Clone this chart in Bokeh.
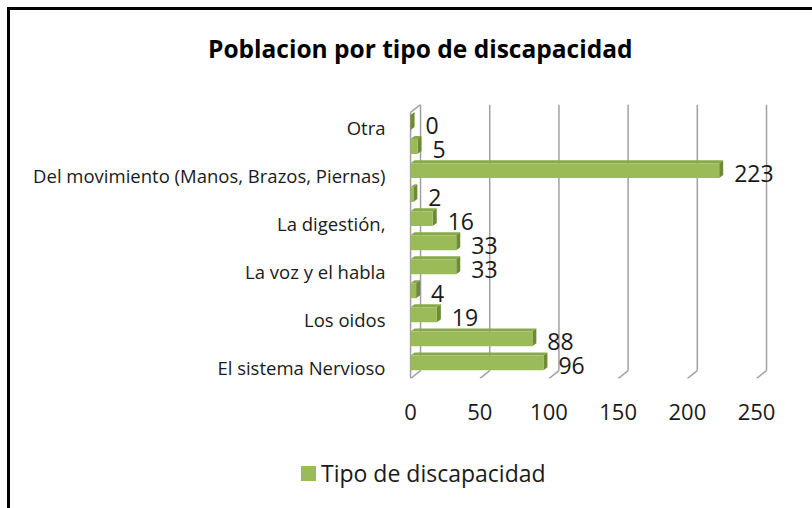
from bokeh.plotting import figure
from bokeh.models import Range1d, FixedTicker, ColumnDataSource, Div
from bokeh.layouts import column
from bokeh.core.properties import value
from bokeh.embed import file_html
from bokeh.resources import INLINE

# ---- data (bottom to top) ----
categories = [
    "El sistema Nervioso",
    "Los ojos",
    "Los oidos",
    "Los demás órganos de los sentidos",
    "La voz y el habla",
    "El sistema cardiorrespiratorio",
    "La digestión,",
    "El sistema genital",
    "Del movimiento (Manos, Brazos, Piernas)",
    "La piel",
    "Otra",
]
values = [96, 88, 19, 4, 33, 33, 16, 2, 223, 5, 0]
shown_label_idx = [0, 2, 4, 6, 8, 10]
x_ticks = [0, 50, 100, 150, 200, 250]
series_name = "Tipo de discapacidad"
title_text = "Poblacion por tipo de discapacidad"

FONT = "Open Sans"
GREEN = "#9BBB59"
GREEN_TOP = "#88A84A"
GREEN_SIDE = "#6E8B34"
GRID = "#A0A0A0"
TXT = "#1a1a1a"

title_html = (
    f'<div style="position:relative;width:802px;height:50px">'
    f'<div style="position:absolute;left:193px;top:17px;line-height:34px;white-space:nowrap;'
    f'font-family:\'{FONT}\';font-size:24.5px;font-weight:bold;color:#000">{title_text}</div></div>'
)
title_div = Div(text=title_html, width=802, height=50)

p = figure(
    width=802, height=380, output_backend="svg", toolbar_location=None,
    x_range=Range1d(-1.5, 270.2), y_range=Range1d(-0.65, 10.75),
    min_border_left=398, min_border_right=28, min_border_top=34, min_border_bottom=72,
)
p.outline_line_color = None
p.xgrid.visible = False
p.ygrid.visible = False
p.background_fill_color = "white"
p.border_fill_color = "white"

# 3D geometry (data units)
dxw, dyw = 7.2, 0.33      # wall depth
ddx, ddy = 2.9, 0.125     # bar depth
y_floor_front = -0.65
y_floor_back = y_floor_front + dyw
y_top_back = 10.75
y_top_front = y_top_back - dyw
bh = 0.62

# back wall gridlines
p.segment(x0=[t + dxw for t in x_ticks], y0=[y_floor_back] * len(x_ticks),
          x1=[t + dxw for t in x_ticks], y1=[y_top_back] * len(x_ticks),
          line_color=GRID, line_width=1.5)
# floor diagonals
p.segment(x0=[t + dxw for t in x_ticks], y0=[y_floor_back] * len(x_ticks),
          x1=x_ticks, y1=[y_floor_front] * len(x_ticks),
          line_color=GRID, line_width=1.5)
# left wall
p.segment(x0=[x_ticks[0]], y0=[y_floor_front], x1=[x_ticks[0]], y1=[y_top_front],
          line_color=GRID, line_width=1.5)
p.segment(x0=[x_ticks[0]], y0=[y_top_front], x1=[x_ticks[0] + dxw], y1=[y_top_back],
          line_color=GRID, line_width=1.5)

idx = list(range(len(categories)))
top_xs, top_ys, side_xs, side_ys = [], [], [], []
for i, v in zip(idx, values):
    t, b = i + bh / 2, i - bh / 2
    top_xs.append([0, v, v + ddx, ddx])
    top_ys.append([t, t, t + ddy, t + ddy])
    side_xs.append([v, v + ddx, v + ddx, v])
    side_ys.append([b, b + ddy, t + ddy, t])
p.patches(top_xs, top_ys, fill_color=GREEN_TOP, line_color=None)
p.patches(side_xs, side_ys, fill_color=GREEN_SIDE, line_color=None)

src = ColumnDataSource(dict(y=idx, v=values, lab=[str(v) for v in values]))
p.hbar(y="y", right="v", left=0, height=bh, source=src,
       fill_color=GREEN, line_color=None)

p.text(x="v", y="y", text="lab", source=src, x_offset=15, y_offset=3,
       text_baseline="middle", text_align="left", text_font=value(FONT),
       text_font_size="23px", text_color=TXT)

# axes
label_ticks = [i - 0.2 for i in shown_label_idx]
p.yaxis.ticker = FixedTicker(ticks=label_ticks)
p.yaxis.major_label_overrides = {t: categories[i] for t, i in zip(label_ticks, shown_label_idx)}
p.yaxis.axis_line_color = None
p.yaxis.major_tick_line_color = None
p.yaxis.minor_tick_line_color = None
p.yaxis.major_label_text_font = FONT
p.yaxis.major_label_text_font_size = "18.5px"
p.yaxis.major_label_text_color = TXT
p.yaxis.major_label_standoff = 17

p.xaxis.ticker = FixedTicker(ticks=x_ticks)
p.xaxis.axis_line_color = None
p.xaxis.major_tick_line_color = None
p.xaxis.minor_tick_line_color = None
p.xaxis.major_label_text_font = FONT
p.xaxis.major_label_text_font_size = "22px"
p.xaxis.major_label_text_color = TXT
p.xaxis.major_label_standoff = 19

legend_html = (
    f'<div style="display:flex;align-items:center;height:58px;padding-left:286px;'
    f'font-family:\'{FONT}\';font-size:23px;color:{TXT};margin-top:-11px">'
    f'<span style="display:inline-block;width:15px;height:15px;background:{GREEN};'
    f'margin-right:5px"></span>{series_name}</div>'
)
legend_div = Div(text=legend_html, width=802, height=58)

page = column(title_div, p, legend_div,
              styles={"margin-left": "7px", "margin-top": "7px",
                      "border-left": "3px solid black", "border-top": "3px solid black",
                      "background": "white"})

open("out.html", "w").write(file_html(page, INLINE))
